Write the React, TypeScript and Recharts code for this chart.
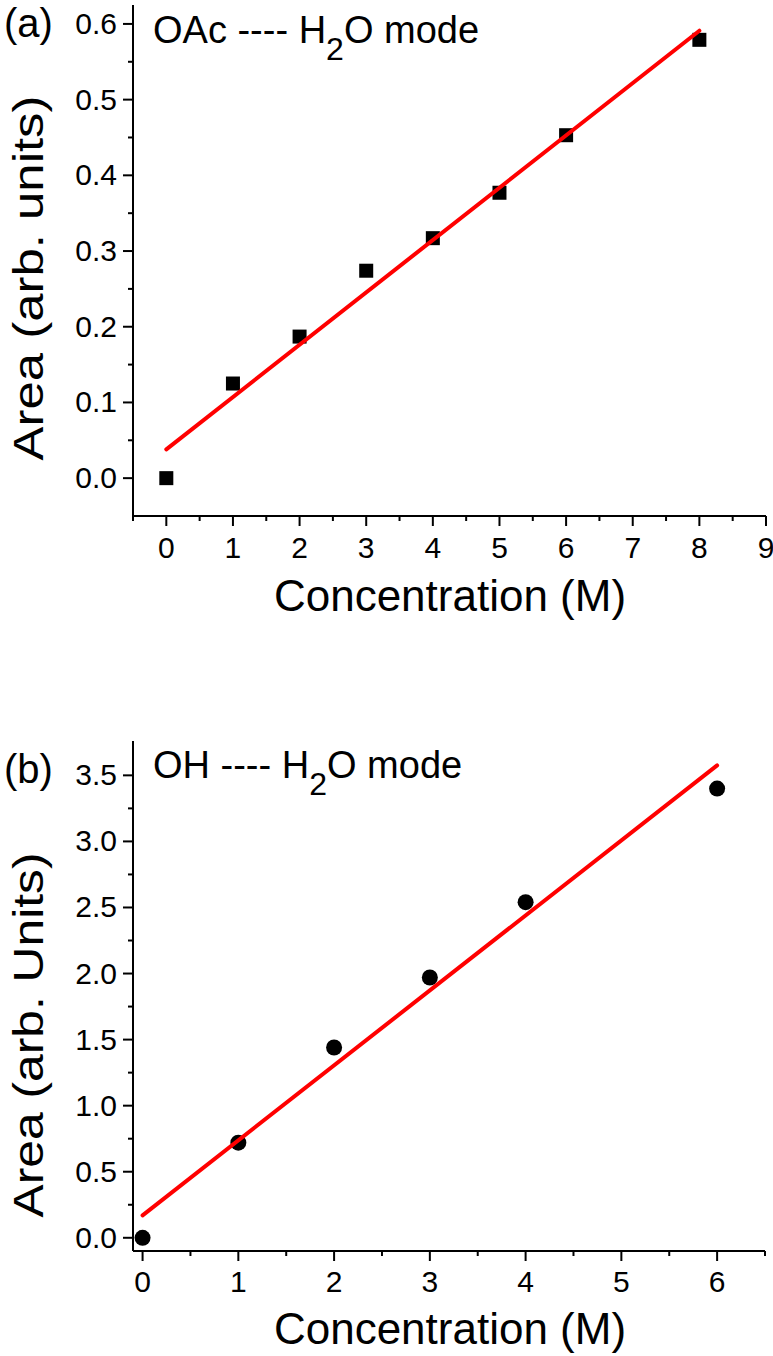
import React from "react";
import { ScatterChart, Scatter, XAxis, YAxis, Customized } from "recharts";

// (a) acetate series
const acetateConc = [0, 1, 2, 3, 4, 5, 6, 8];
const acetateArea = [0, 0.125, 0.187, 0.274, 0.317, 0.377, 0.453, 0.579];
const acetateFitConc = [0, 8];
const acetateFitArea = [0.038, 0.591];

// (b) hydroxide series
const hydroxideConc = [0, 1, 2, 3, 4, 6];
const hydroxideArea = [0, 0.72, 1.44, 1.97, 2.54, 3.4];
const hydroxideFitConc = [0, 6];
const hydroxideFitArea = [0.17, 3.575];

// tick positions (majors get a label, the rest are minor ticks)
const acetateXTicks = [-0.5, 0, 0.5, 1, 1.5, 2, 2.5, 3, 3.5, 4, 4.5, 5, 5.5, 6, 6.5, 7, 7.5, 8, 8.5, 9];
const acetateYTicks = [0, 0.05, 0.1, 0.15, 0.2, 0.25, 0.3, 0.35, 0.4, 0.45, 0.5, 0.55, 0.6];
const hydroxideXTicks = [0, 0.5, 1, 1.5, 2, 2.5, 3, 3.5, 4, 4.5, 5, 5.5, 6, 6.5];
const hydroxideYTicks = [0, 0.25, 0.5, 0.75, 1, 1.25, 1.5, 1.75, 2, 2.25, 2.5, 2.75, 3, 3.25, 3.5];

const FONT = '"Liberation Sans", Arial, Helvetica, sans-serif';
const RED = "#ff0000";

const toPoints = (xs: number[], ys: number[]) => xs.map((c, i) => ({ conc: c, area: ys[i] }));

const isMultiple = (v: number, step: number) => Math.abs(v / step - Math.round(v / step)) < 1e-6;

const makeXTick = (step: number, labelDy: number) => (props: any) => {
  const { x, y, payload } = props;
  const major = isMultiple(payload.value, step);
  return (
    <g>
      <line x1={x} x2={x} y1={y} y2={y + (major ? 10 : 5)} stroke="#000" strokeWidth={2} />
      {major && (
        <text x={x} y={y + labelDy} textAnchor="middle" fontSize={30} fontFamily={FONT} fill="#000">
          {payload.value.toFixed(0)}
        </text>
      )}
    </g>
  );
};

const makeYTick = (step: number) => (props: any) => {
  const { x, y, payload } = props;
  const major = isMultiple(payload.value, step);
  return (
    <g>
      <line x1={x} x2={x - (major ? 10 : 5)} y1={y} y2={y} stroke="#000" strokeWidth={2} />
      {major && (
        <text x={x - 16} y={y + 10} textAnchor="end" fontSize={30} fontFamily={FONT} fill="#000">
          {payload.value.toFixed(1)}
        </text>
      )}
    </g>
  );
};

const Square = (props: any) => {
  const { cx, cy } = props;
  return <rect x={cx - 7} y={cy - 7} width={14} height={14} fill="#000" />;
};

const Dot = (props: any) => {
  const { cx, cy } = props;
  return <circle cx={cx} cy={cy} r={8} fill="#000" />;
};

const NoMark = () => <g />;

interface Notes {
  tag: string;
  tagY: number;
  ion: string;
  noteY: number;
  yTitle: string;
  yTitleY: number;
  xTitleY: number;
}

const Annotations = ({ tag, tagY, ion, noteY, yTitle, yTitleY, xTitleY }: Notes) => (
  <g fontFamily={FONT} fill="#000">
    <text x={4} y={tagY} fontSize={40}>
      {tag}
    </text>
    <text x={153} y={noteY} fontSize={38}>
      {ion} ---- H
      <tspan fontSize={32} dy={17}>
        2
      </tspan>
      <tspan dy={-17}>O mode</tspan>
    </text>
    <text
      x={43}
      y={yTitleY}
      fontSize={42}
      textAnchor="middle"
      textLength={365}
      lengthAdjust="spacingAndGlyphs"
      transform={`rotate(-90, 43, ${yTitleY})`}
    >
      {yTitle}
    </text>
    <text x={450} y={xTitleY} fontSize={44} textAnchor="middle">
      Concentration (M)
    </text>
  </g>
);

const App = () => {
  const acetate = toPoints(acetateConc, acetateArea);
  const acetateFit = toPoints(acetateFitConc, acetateFitArea);
  const hydroxide = toPoints(hydroxideConc, hydroxideArea);
  const hydroxideFit = toPoints(hydroxideFitConc, hydroxideFitArea);

  return (
    <div
      style={{
        position: "absolute",
        left: 0,
        top: 0,
        width: 773,
        height: 1356,
        background: "#fff",
        overflow: "hidden",
      }}
    >
      <div style={{ position: "absolute", left: 0, top: 0 }}>
        <ScatterChart width={773} height={660} margin={{ top: 5, right: 7, bottom: 0, left: 0 }}>
          <XAxis
            type="number"
            dataKey="conc"
            domain={[-0.5, 9]}
            ticks={acetateXTicks}
            interval={0}
            allowDataOverflow
            height={144}
            tickSize={0}
            tickMargin={0}
            tickLine={false}
            axisLine={{ stroke: "#000", strokeWidth: 2 }}
            tick={makeXTick(1, 42)}
          />
          <YAxis
            type="number"
            dataKey="area"
            domain={[-0.05, 0.625]}
            ticks={acetateYTicks}
            interval={0}
            allowDataOverflow
            width={133}
            tickSize={0}
            tickMargin={0}
            tickLine={false}
            axisLine={{ stroke: "#000", strokeWidth: 2 }}
            tick={makeYTick(0.1)}
          />
          <Scatter data={acetate} shape={Square} isAnimationActive={false} />
          <Scatter
            data={acetateFit}
            shape={NoMark}
            line={{ stroke: RED, strokeWidth: 4, strokeLinecap: "round" }}
            isAnimationActive={false}
          />
          <Customized
            component={
              <Annotations
                tag="(a)"
                tagY={37}
                ion="OAc"
                noteY={43}
                yTitle="Area (arb. units)"
                yTitleY={278}
                xTitleY={611}
              />
            }
          />
        </ScatterChart>
      </div>
      <div style={{ position: "absolute", left: 0, top: 680 }}>
        <ScatterChart width={773} height={676} margin={{ top: 61, right: 8, bottom: 0, left: 0 }}>
          <XAxis
            type="number"
            dataKey="conc"
            domain={[-0.1, 6.5]}
            ticks={hydroxideXTicks}
            interval={0}
            allowDataOverflow
            height={105}
            tickSize={0}
            tickMargin={0}
            tickLine={false}
            axisLine={{ stroke: "#000", strokeWidth: 2 }}
            tick={makeXTick(1, 41)}
          />
          <YAxis
            type="number"
            dataKey="area"
            domain={[-0.1, 3.76]}
            ticks={hydroxideYTicks}
            interval={0}
            allowDataOverflow
            width={133}
            tickSize={0}
            tickMargin={0}
            tickLine={false}
            axisLine={{ stroke: "#000", strokeWidth: 2 }}
            tick={makeYTick(0.5)}
          />
          <Scatter data={hydroxide} shape={Dot} isAnimationActive={false} />
          <Scatter
            data={hydroxideFit}
            shape={NoMark}
            line={{ stroke: RED, strokeWidth: 4, strokeLinecap: "round" }}
            isAnimationActive={false}
          />
          <Customized
            component={
              <Annotations
                tag="(b)"
                tagY={103}
                ion="OH"
                noteY={98}
                yTitle="Area (arb. Units)"
                yTitleY={355}
                xTitleY={664}
              />
            }
          />
        </ScatterChart>
      </div>
    </div>
  );
};

export default App;
